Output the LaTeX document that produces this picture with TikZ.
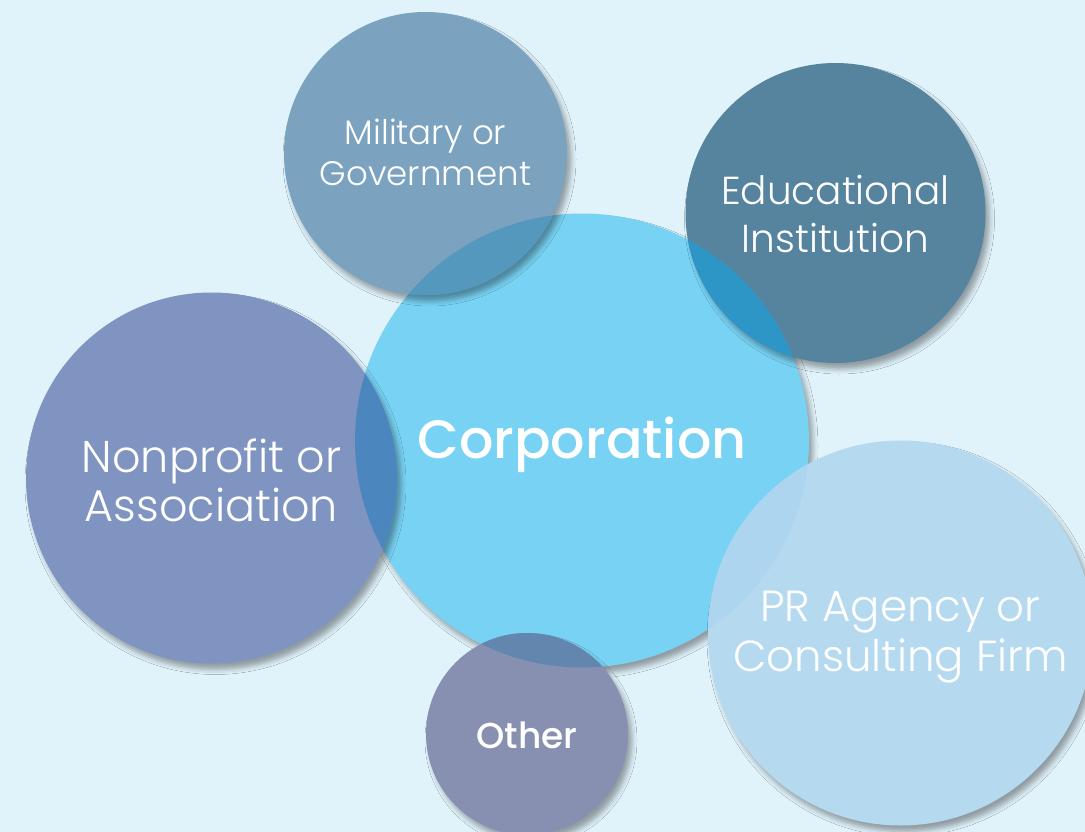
\documentclass[tikz,border=0pt]{standalone}
\usepackage{fontspec}
\setmainfont{Poppins}[UprightFont=* Light, BoldFont=* Medium]
\usetikzlibrary{shadows.blur}
\definecolor{bg}{HTML}{E0F2FA}
\definecolor{milc}{HTML}{7BA3BF}
\definecolor{educ}{HTML}{56849F}
\definecolor{corpc}{HTML}{78D2F4}
\definecolor{nonc}{HTML}{7F94C0}
\definecolor{prc}{HTML}{B5DAF0}
\definecolor{othc}{HTML}{8790B0}
\definecolor{milx}{HTML}{5598BD}
\definecolor{edux}{HTML}{2E96C6}
\definecolor{nonx}{HTML}{4B86BF}
\definecolor{othx}{HTML}{6386AF}
\definecolor{prx}{HTML}{AED5F0}
\tikzset{
  bubble/.style={circle, draw=none, inner sep=0pt, outer sep=0pt,
    blur shadow={shadow xshift=4pt, shadow yshift=-6pt, shadow blur radius=5pt, shadow opacity=35}},
  label/.style={text=white, align=center, inner sep=0pt}
}
\begin{document}
\begin{tikzpicture}[x=1pt,y=-1pt]
\useasboundingbox (0,0) rectangle (1085,832);
\clip (0,0) rectangle (1085,832);
\fill[bg] (0,0) rectangle (1085,832);
% circles
\node[bubble, fill=corpc, minimum size=454pt] (corp) at (582,440.5) {};
\node[bubble, fill=milc, minimum size=283pt] (mil) at (425.5,153.5) {};
\node[bubble, fill=educ, minimum size=300pt] (edu) at (835.5,213) {};
\node[bubble, fill=nonc, minimum size=371pt] (non) at (211.5,478) {};
\node[bubble, fill=othc, minimum size=202pt] (oth) at (527,734) {};
\node[bubble, fill=prc, minimum size=385pt] (pr) at (900.5,633) {};
% overlaps with the central circle
\begin{scope}
  \clip (corp.center) circle[radius=227];
  \fill[milx] (mil.center) circle[radius=141.5];
  \fill[edux] (edu.center) circle[radius=150];
  \fill[nonx] (non.center) circle[radius=185.5];
  \fill[othx] (oth.center) circle[radius=101];
  \fill[prx] (pr.center) circle[radius=192.5];
\end{scope}
% labels
\node[label, font=\fontsize{34}{41}\selectfont] (milT) at ([yshift=1pt]mil.center) {Military or\\Government};
\node[label, font=\fontsize{39}{48}\selectfont] (eduT) at ([yshift=-1pt]edu.center) {Educational\\Institution};
\node[label, font=\fontsize{44.5}{49}\selectfont] (nonT) at ([yshift=-2pt]non.center) {Nonprofit or\\Association};
\node[label, font=\bfseries\fontsize{54}{60}\selectfont] (corpT) at ([yshift=-4pt]corp.center) {Corporation};
\node[label, font=\fontsize{43.5}{50}\selectfont] (prT) at ([yshift=-4pt]pr.center) {PR Agency or\\Consulting Firm};
\node[label, font=\bfseries\fontsize{36}{40}\selectfont] (othT) at ([yshift=-1pt]oth.center) {Other};
\end{tikzpicture}
\end{document}
